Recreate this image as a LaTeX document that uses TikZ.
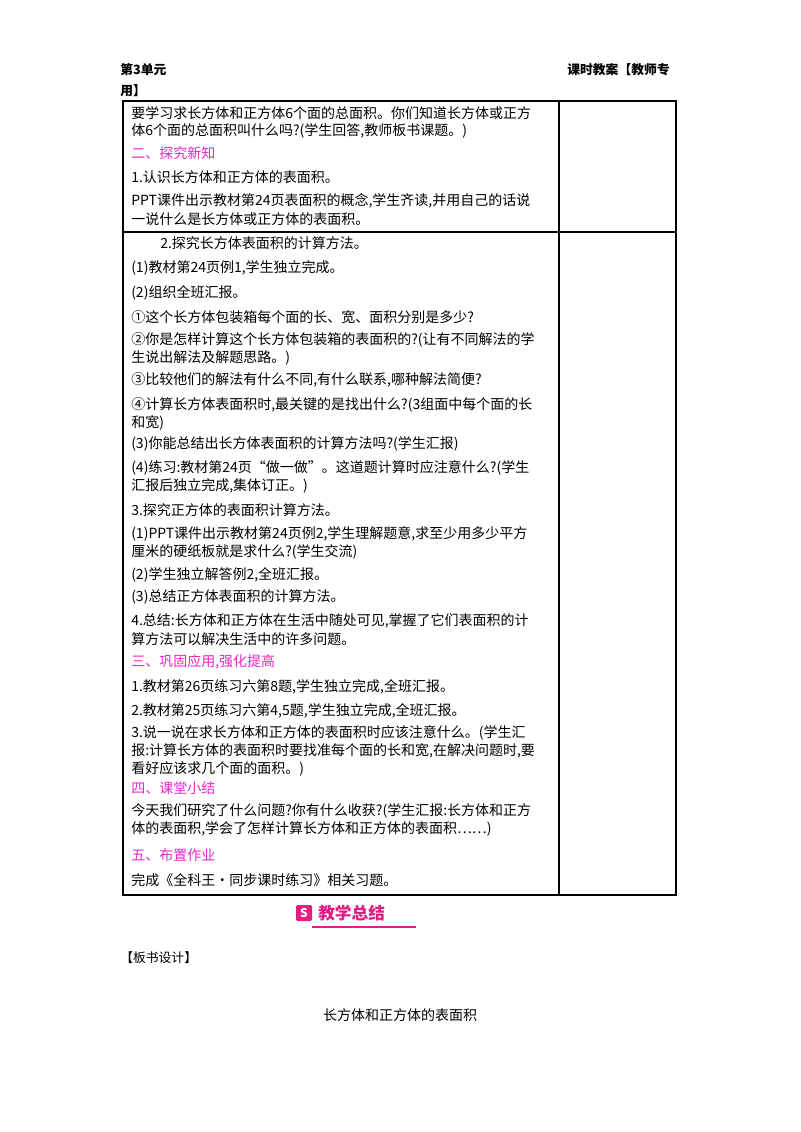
\documentclass[tikz,border=0pt]{standalone}
\usepackage{fontspec}
\setmainfont{Liberation Serif}
\newfontfamily\cjk{Noto Sans CJK SC}
\newcommand{\Tx}[3]{\node[line,anchor=west] at (#1,#2) {#3};}
\definecolor{hotpink}{RGB}{230,40,200}
\definecolor{badge}{RGB}{225,30,130}
\begin{document}
\begin{tikzpicture}[x=0.75pt,y=-0.75pt,
  line/.style={inner sep=0pt,font=\cjk\fontsize{10.5}{11}\selectfont},
  head/.style={line,text=hotpink},
  hdr/.style={inner sep=0pt,font=\cjk\bfseries\fontsize{9.6}{11}\selectfont}]
\useasboundingbox[fill=white] (0,0) rectangle (800,1132);
% header
\node[hdr,anchor=west] (unit) at (120,70) {第3单元};
\node[hdr,anchor=west] (unit2) at (120,91) {用】};
\node[hdr,anchor=east] (kind) at (670,70) {课时教案【教师专};
% table frame
\draw[line width=1.6pt] (123,101) -- (676,101);
\draw[line width=0.8pt] (123,101) rectangle (676,895);
\draw[line width=0.8pt] (559,101) -- (559,895);
\draw[line width=0.8pt] (123,232) -- (676,232);
% row 1
\Tx{131}{113}{要学习求长方体和正方体6个面的总面积。你们知道长方体或正方}
\Tx{131}{131}{体6个面的总面积叫什么吗?(学生回答,教师板书课题。)}
\node[head,anchor=west] (h2) at (131,153) {二、探究新知};
\Tx{131}{177}{1.认识长方体和正方体的表面积。}
\Tx{131}{201}{PPT课件出示教材第24页表面积的概念,学生齐读,并用自己的话说}
\Tx{131}{219}{一说什么是长方体或正方体的表面积。}
% row 2
\Tx{160}{243}{2.探究长方体表面积的计算方法。}
\Tx{131}{268}{(1)教材第24页例1,学生独立完成。}
\Tx{131}{293}{(2)组织全班汇报。}
\Tx{131}{317}{①这个长方体包装箱每个面的长、宽、面积分别是多少?}
\Tx{131}{340}{②你是怎样计算这个长方体包装箱的表面积的?(让有不同解法的学}
\Tx{131}{358}{生说出解法及解题思路。)}
\Tx{131}{380}{③比较他们的解法有什么不同,有什么联系,哪种解法简便?}
\Tx{131}{405}{④计算长方体表面积时,最关键的是找出什么?(3组面中每个面的长}
\Tx{131}{423}{和宽)}
\Tx{131}{444}{(3)你能总结出长方体表面积的计算方法吗?(学生汇报)}
\Tx{131}{468}{(4)练习:教材第24页“做一做”。这道题计算时应注意什么?(学生}
\Tx{131}{486}{汇报后独立完成,集体订正。)}
\Tx{131}{510}{3.探究正方体的表面积计算方法。}
\Tx{131}{534}{(1)PPT课件出示教材第24页例2,学生理解题意,求至少用多少平方}
\Tx{131}{552}{厘米的硬纸板就是求什么?(学生交流)}
\Tx{131}{575}{(2)学生独立解答例2,全班汇报。}
\Tx{131}{597}{(3)总结正方体表面积的计算方法。}
\Tx{131}{621}{4.总结:长方体和正方体在生活中随处可见,掌握了它们表面积的计}
\Tx{131}{639}{算方法可以解决生活中的许多问题。}
\node[head,anchor=west] (h3) at (131,662) {三、巩固应用,强化提高};
\Tx{131}{687}{1.教材第26页练习六第8题,学生独立完成,全班汇报。}
\Tx{131}{711}{2.教材第25页练习六第4,5题,学生独立完成,全班汇报。}
\Tx{131}{733}{3.说一说在求长方体和正方体的表面积时应该注意什么。(学生汇}
\Tx{131}{751}{报:计算长方体的表面积时要找准每个面的长和宽,在解决问题时,要}
\Tx{131}{769}{看好应该求几个面的面积。)}
\node[head,anchor=west] (h4) at (131,788) {四、课堂小结};
\Tx{131}{811}{今天我们研究了什么问题?你有什么收获?(学生汇报:长方体和正方}
\Tx{131}{829}{体的表面积,学会了怎样计算长方体和正方体的表面积……)}
\node[head,anchor=west] (h5) at (131,855) {五、布置作业};
\Tx{131}{880}{完成《全科王·同步课时练习》相关习题。}
% badge
\node[fill=badge,rounded corners=1pt,minimum size=12pt,inner sep=0pt,
  text=white,font=\cjk\bfseries\fontsize{9}{9}\selectfont] (logo) at (304,913) {S};
\node[anchor=west,inner sep=0pt,text=badge,
  font=\cjk\bfseries\fontsize{12.5}{13}\selectfont] (sum) at (318,913) {教学总结};
\coordinate (lineend) at (416,927);
\draw[badge,line width=1pt] (logo.south east |- lineend) -- (lineend);
% board design
\node[hdr,anchor=west,font=\cjk\fontsize{9.6}{11}\selectfont] (board) at (120,958) {【板书设计】};
\node[line] (title) at (400,1015) {长方体和正方体的表面积};
\end{tikzpicture}
\end{document}
